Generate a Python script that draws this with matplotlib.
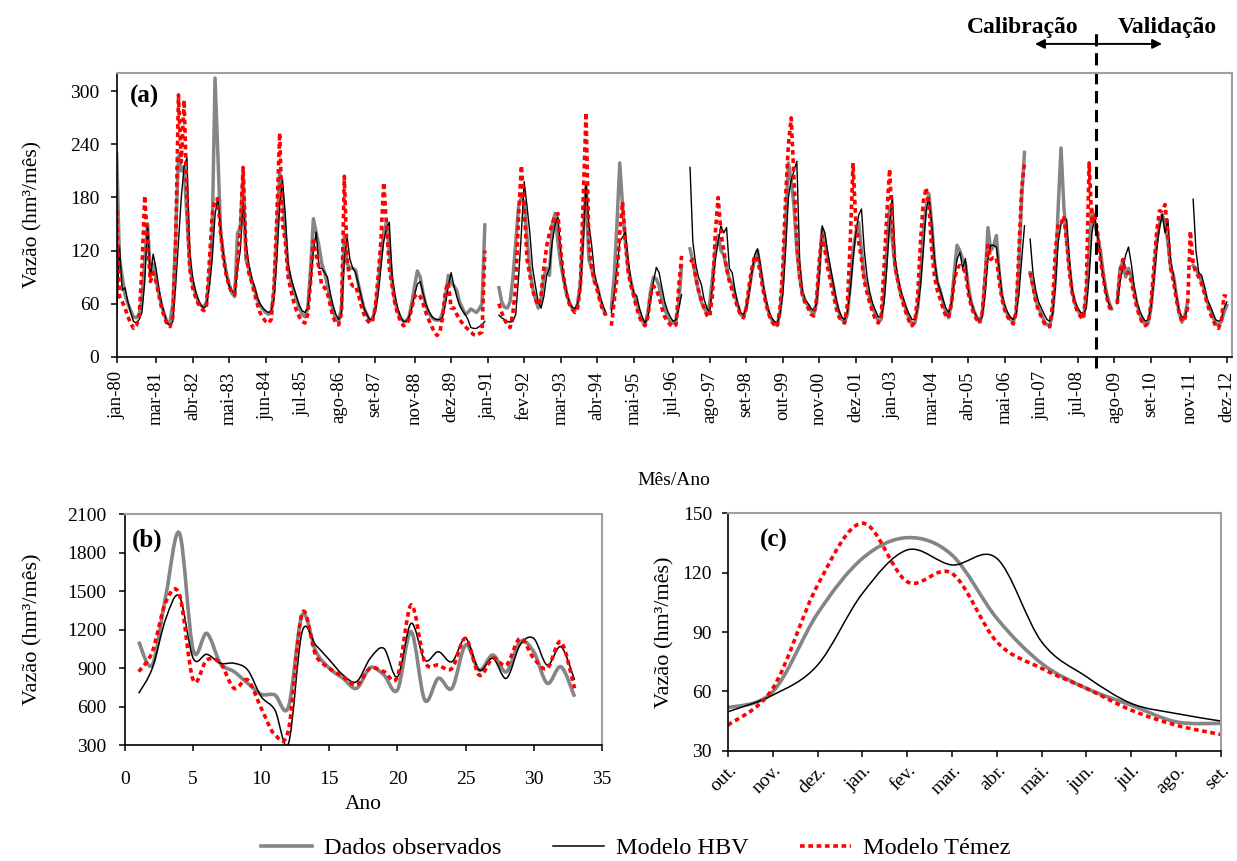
import numpy as np
import matplotlib
matplotlib.use('Agg')
import matplotlib.pyplot as plt
from matplotlib.path import Path
from matplotlib.patches import PathPatch
from matplotlib.lines import Line2D

plt.rcParams['font.family'] = ['Liberation Serif', 'DejaVu Serif']

N = None

# (a) monthly flows, one row per calendar year (jan..dez), 1980-2012
obs_years = [
    [230, 110, 90, 70, 60, 52, 45, 44, 48, 65, 110, 150],
    [95, 105, 88, 72, 58, 48, 38, 40, 60, 137, 227, 210],
    [215, 160, 103, 85, 72, 62, 58, 56, 62, 90, 140, 315],
    [230, 140, 115, 95, 82, 72, 68, 140, 145, 205, 110, 100],
    [85, 78, 65, 58, 54, 50, 48, 50, 75, 140, 208, 185],
    [140, 100, 85, 75, 65, 55, 48, 45, 55, 100, 156, 140],
    [125, 105, 95, 80, 65, 52, 42, 40, 55, 137, 105, 100],
    [100, 98, 82, 68, 55, 48, 41, 42, 55, 80, 115, 140],
    [152, 120, 85, 62, 52, 44, 40, 40, 45, 60, 80, 97],
    [90, 72, 58, 50, 45, 42, 41, 42, 50, 68, 92, 84],
    [80, 75, 62, 55, 48, 50, 54, 52, 50, 54, 60, 149],
    [N, N, N, N, 78, 62, 56, 55, 62, 90, 130, 170],
    [180, 175, 135, 100, 78, 65, 55, 65, 90, 100, 92, 150],
    [162, 130, 105, 88, 72, 62, 55, 52, 60, 85, 140, 193],
    [110, 100, 85, 80, 65, 55, 48, N, 55, 90, 150, 219],
    [170, 130, 100, 85, 70, 60, 50, 40, 36, 50, 75, 90],
    [88, 80, 65, 55, 45, 40, 38, 40, 60, 103, N, N],
    [122, 107, 90, 75, 62, 55, 50, 60, 90, 120, 137, 120],
    [115, 100, 88, 82, 70, 58, 48, 45, 55, 75, 95, 110],
    [120, 100, 80, 62, 50, 42, 38, 35, 50, 84, 150, 219],
    [200, 170, 120, 90, 70, 62, 58, 52, 48, 60, 100, 144],
    [130, 110, 95, 80, 62, 50, 42, 39, 48, 80, 120, 140],
    [152, 120, 90, 80, 65, 55, 48, 40, 42, 70, 120, 167],
    [130, 100, 85, 70, 62, 52, 42, 36, 38, 55, 90, 140],
    [170, 184, 150, 107, 85, 75, 62, 50, 44, 60, 95, 126],
    [120, 110, 105, 80, 62, 52, 45, 39, 50, 90, 146, 120],
    [125, 137, 95, 68, 55, 47, 42, 39, 50, 100, 180, 231],
    [N, 95, 80, 65, 55, 48, 40, 36, 35, 50, 90, 170],
    [236, 170, 130, 100, 73, 60, 52, 47, 45, 70, 120, 167],
    [150, 137, 120, 95, 75, 62, 54, N, 62, 100, 107, 90],
    [100, 90, 75, 60, 48, 40, 36, 38, 55, 90, 130, 150],
    [161, 150, 130, 100, 92, 70, 50, 39, 45, 62, N, 103],
    [100, 92, 85, 75, 62, 55, 45, 38, 35, 40, 50, 58],
]
hbv_years = [
    [45, 125, 75, 78, 62, 50, 40, 38, 42, 50, 85, 150],
    [90, 116, 100, 78, 60, 48, 38, 35, 40, 80, 130, 180],
    [215, 225, 120, 90, 75, 65, 58, 55, 58, 80, 110, 160],
    [180, 145, 115, 92, 80, 75, 70, 100, 120, 174, 130, 105],
    [90, 80, 68, 60, 55, 52, 50, 52, 65, 110, 170, 200],
    [160, 105, 90, 78, 68, 58, 52, 50, 55, 80, 120, 141],
    [100, 100, 95, 90, 72, 58, 48, 42, 50, 110, 135, 110],
    [100, 95, 82, 68, 55, 48, 42, 43, 50, 70, 100, 130],
    [145, 152, 92, 70, 55, 45, 40, 40, 45, 55, 70, 82],
    [85, 72, 60, 52, 46, 43, 42, 42, 45, 60, 80, 95],
    [80, 68, 58, 52, 48, 42, 33, 32, 32, 34, 36, 40],
    [N, N, N, N, 47, 44, 42, 40, 39, 40, 48, 90],
    [140, 198, 170, 140, 100, 80, 62, 55, 68, 92, 100, 130],
    [150, 158, 120, 90, 75, 62, 56, 54, 60, 75, 130, 195],
    [150, 126, 95, 80, 68, 58, 50, N, 50, 70, 100, 130],
    [135, 141, 110, 85, 72, 69, 55, 45, 38, 45, 65, 85],
    [101, 95, 78, 62, 52, 45, 40, 42, 55, 70, N, N],
    [214, 130, 105, 90, 82, 65, 55, 50, 80, 110, 130, 148],
    [140, 146, 100, 95, 75, 60, 50, 47, 55, 70, 95, 115],
    [122, 105, 82, 65, 52, 44, 40, 38, 48, 70, 120, 180],
    [200, 210, 221, 110, 75, 65, 60, 55, 52, 60, 90, 148],
    [140, 118, 100, 82, 65, 52, 45, 42, 50, 75, 110, 140],
    [160, 167, 120, 90, 72, 60, 52, 45, 45, 60, 100, 150],
    [182, 110, 90, 75, 65, 55, 48, 42, 42, 55, 80, 120],
    [165, 180, 150, 110, 85, 75, 65, 55, 50, 60, 85, 110],
    [118, 100, 111, 75, 62, 52, 45, 40, 45, 70, 110, 126],
    [126, 124, 100, 70, 58, 50, 45, 42, 48, 70, 110, 148],
    [N, 133, 95, 75, 62, 55, 48, 42, 40, 48, 80, 130],
    [150, 157, 155, 110, 75, 62, 55, 50, 48, 55, 90, 140],
    [159, 137, 115, 90, 72, 60, 55, N, 60, 85, 100, 115],
    [124, 105, 80, 62, 52, 45, 40, 42, 55, 85, 120, 145],
    [161, 140, 155, 110, 92, 70, 52, 45, 45, 55, N, 178],
    [120, 95, 92, 80, 65, 58, 50, 42, 40, 42, 55, 62],
]
temez_years = [
    [165, 68, 62, 55, 45, 38, 32, 35, 45, 100, 182, 130],
    [85, 95, 85, 70, 55, 45, 36, 34, 45, 130, 296, 220],
    [290, 180, 100, 78, 68, 60, 55, 52, 58, 110, 160, 178],
    [178, 140, 110, 92, 80, 72, 70, 105, 145, 214, 120, 95],
    [85, 72, 60, 50, 44, 40, 38, 42, 80, 160, 253, 150],
    [130, 90, 75, 62, 52, 45, 40, 38, 48, 85, 131, 115],
    [100, 80, 78, 72, 58, 45, 38, 36, 50, 204, 110, 85],
    [80, 80, 70, 58, 48, 42, 38, 40, 55, 90, 130, 197],
    [150, 100, 80, 60, 48, 40, 35, 36, 42, 55, 68, 71],
    [68, 60, 50, 42, 35, 28, 24, 28, 45, 75, 84, 55],
    [55, 48, 42, 38, 34, 31, 28, 25, 24, 26, 28, 120],
    [N, N, N, N, 60, 50, 42, 36, 33, 50, 80, 160],
    [216, 170, 110, 92, 75, 65, 58, 70, 100, 125, 140, 150],
    [160, 162, 120, 90, 72, 60, 54, 50, 55, 80, 180, 276],
    [130, 100, 85, 75, 62, 52, 47, N, 35, 62, 90, 140],
    [175, 130, 95, 80, 68, 55, 45, 38, 35, 45, 70, 80],
    [75, 68, 55, 45, 40, 36, 34, 36, 80, 114, N, N],
    [107, 110, 90, 75, 65, 55, 47, 45, 70, 140, 180, 140],
    [120, 100, 85, 75, 65, 55, 47, 44, 55, 80, 100, 114],
    [110, 95, 75, 60, 48, 40, 36, 34, 55, 100, 180, 240],
    [270, 200, 130, 90, 70, 60, 55, 48, 46, 65, 110, 137],
    [120, 100, 85, 70, 55, 45, 40, 38, 60, 130, 219, 150],
    [130, 110, 85, 72, 60, 50, 42, 38, 45, 100, 160, 212],
    [150, 100, 85, 70, 58, 48, 40, 35, 40, 70, 130, 175],
    [191, 170, 120, 90, 75, 65, 55, 46, 44, 60, 85, 100],
    [103, 100, 95, 72, 58, 48, 42, 38, 50, 90, 126, 110],
    [112, 112, 85, 65, 52, 45, 40, 37, 50, 120, 190, 219],
    [N, 95, 80, 62, 52, 45, 38, 34, 34, 60, 120, 150],
    [150, 159, 130, 95, 72, 58, 50, 45, 43, 80, 219, 150],
    [160, 140, 110, 90, 70, 58, 50, N, 60, 95, 110, 95],
    [95, 85, 70, 55, 45, 38, 35, 38, 60, 100, 140, 165],
    [165, 172, 140, 100, 85, 65, 50, 40, 42, 55, 142, 105],
    [95, 90, 82, 72, 60, 50, 42, 35, 32, 40, 69, 68],
]
tick_months = [0, 14, 27, 40, 53, 66, 79, 92, 106, 119, 132, 145, 158, 171, 184,
               198, 211, 224, 237, 250, 263, 276, 290, 303, 316, 329, 342, 355,
               368, 382, 395]
tick_labels_a = ['jan-80', 'mar-81', 'abr-82', 'mai-83', 'jun-84', 'jul-85',
                 'ago-86', 'set-87', 'nov-88', 'dez-89', 'jan-91', 'fev-92',
                 'mar-93', 'abr-94', 'mai-95', 'jul-96', 'ago-97', 'set-98',
                 'out-99', 'nov-00', 'dez-01', 'jan-03', 'mar-04', 'abr-05',
                 'mai-06', 'jun-07', 'jul-08', 'ago-09', 'set-10', 'nov-11',
                 'dez-12']
split_month = 348.5   # end of calibration period

# (b) annual totals per hydrological year
years_b = list(range(1, 34))
obs_annual = [1105, 924, 1469, 1949, 1040, 1170, 937, 872, 781, 695, 690, 599,
              1313, 1030, 898, 820, 742, 903, 846, 730, 1183, 651, 820, 742,
              1079, 884, 1001, 871, 1105, 1027, 781, 910, 676]
hbv_annual = [703, 898, 1287, 1456, 976, 1007, 937, 937, 885, 677, 573, 313,
              1183, 1079, 963, 846, 794, 976, 1053, 832, 1248, 962, 1027, 949,
              1131, 884, 976, 820, 1079, 1131, 923, 1066, 807]
temez_annual = [872, 1027, 1417, 1469, 807, 963, 937, 742, 807, 586, 380, 420,
                1326, 1001, 898, 833, 768, 898, 872, 832, 1391, 949, 923, 897,
                1131, 845, 976, 923, 1131, 976, 897, 1105, 742]

# (c) mean monthly flows of the hydrological year
months_c = ['out.', 'nov.', 'dez.', 'jan.', 'fev.', 'mar.', 'abr.', 'mai.',
            'jun.', 'jul.', 'ago.', 'set.']
obs_mean = [51.7, 59.8, 99.4, 127.2, 137.7, 128.9, 96.9, 74.1, 61.5, 53.0, 44.6, 43.8]
hbv_mean = [49.7, 58.1, 73.3, 109.5, 131.5, 123.9, 127.2, 85.0, 67.4, 53.9, 48.8, 45.0]
temez_mean = [42.9, 61.5, 113.7, 145.0, 115.4, 119.6, 85.0, 71.6, 61.5, 50.5, 42.9, 38.2]

GRAY = '#858585'
RED = '#ff0000'
red_ls = (0, (1.3, 1.0))


def to_series(rows):
    return np.array([np.nan if v is None else v for row in rows for v in row], float)


def smooth_path(x, y):
    x = np.asarray(x, float)
    y = np.asarray(y, float)
    n = len(x)
    verts = [(x[0], y[0])]
    codes = [Path.MOVETO]
    for i in range(n - 1):
        x0, y0 = (x[i - 1], y[i - 1]) if i > 0 else (x[i], y[i])
        x3, y3 = (x[i + 2], y[i + 2]) if i + 2 < n else (x[i + 1], y[i + 1])
        c1 = (x[i] + (x[i + 1] - x0) / 6, y[i] + (y[i + 1] - y0) / 6)
        c2 = (x[i + 1] - (x3 - x[i]) / 6, y[i + 1] - (y3 - y[i]) / 6)
        verts += [c1, c2, (x[i + 1], y[i + 1])]
        codes += [Path.CURVE4] * 3
    return Path(verts, codes)


def smooth_line(ax, x, y, **kw):
    patch = PathPatch(smooth_path(x, y), facecolor='none', **kw)
    ax.add_patch(patch)


def style_frame(ax):
    for s in ['top', 'right']:
        ax.spines[s].set_color('#a0a0a0')
        ax.spines[s].set_linewidth(1.5)
    for s in ['left', 'bottom']:
        ax.spines[s].set_color('black')
        ax.spines[s].set_linewidth(1.2)
    ax.tick_params(direction='out', length=4.5, width=1.1, color='black')


fig = plt.figure(figsize=(12.37, 8.61), dpi=100)

# ---------------- (a)
ax_a = fig.add_axes([0.0943, 0.5857, 0.9016, 0.3298])
obs = to_series(obs_years)
hbv = to_series(hbv_years)
tem = to_series(temez_years)
t = np.arange(len(obs))
ax_a.plot(t, obs, color=GRAY, lw=2.5)
ax_a.plot(t, hbv, color='black', lw=1.0)
ax_a.plot(t, tem, color=RED, lw=2.6, linestyle=red_ls, dash_capstyle='butt')
ax_a.set_xlim(0, 396.8)
ax_a.set_ylim(0, 321)
ax_a.set_yticks([0, 60, 120, 180, 240, 300])
ax_a.set_xticks(tick_months)
ax_a.set_xticklabels(tick_labels_a, rotation=90, fontsize=13.5)
ax_a.tick_params(axis='y', labelsize=14, pad=8)
ax_a.tick_params(axis='x', pad=6)
style_frame(ax_a)
ax_a.set_ylabel('Vazão (hm³/mês)', fontsize=15.5, labelpad=20)
ax_a.set_xlabel('Mês/Ano', fontsize=14, labelpad=34)
ax_a.text(0.012, 0.915, '(a)', transform=ax_a.transAxes, fontsize=18,
          fontweight='bold', va='center')
ax_a.plot([split_month, split_month], [-0.04, 1.155], color='black', lw=2.2,
          linestyle=(0, (4, 2.2)), transform=ax_a.get_xaxis_transform(),
          clip_on=False)
fig.text(0.8265, 0.9686, 'Calibração', fontsize=17, fontweight='bold',
         ha='center', va='center')
fig.text(0.944, 0.9686, 'Validação', fontsize=17, fontweight='bold',
         ha='center', va='center')
ax_a.annotate('', xy=(0.8367, 0.949), xytext=(0.9394, 0.949),
              xycoords='figure fraction', textcoords='figure fraction',
              arrowprops=dict(arrowstyle='<|-|>', color='black', lw=1.4,
                              mutation_scale=14, shrinkA=0, shrinkB=0))

# ---------------- (b)
ax_b = fig.add_axes([0.1011, 0.1347, 0.3854, 0.2683])
smooth_line(ax_b, years_b, obs_annual, edgecolor=GRAY, lw=2.6)
smooth_line(ax_b, years_b, hbv_annual, edgecolor='black', lw=1.1)
smooth_line(ax_b, years_b, temez_annual, edgecolor=RED, lw=2.6,
            linestyle=red_ls, capstyle='butt')
ax_b.set_xlim(0, 35)
ax_b.set_ylim(300, 2100)
ax_b.set_xticks(range(0, 36, 5))
ax_b.set_yticks(range(300, 2101, 300))
ax_b.tick_params(labelsize=14)
ax_b.tick_params(axis='x', pad=14)
ax_b.tick_params(axis='y', pad=9)
style_frame(ax_b)
ax_b.set_ylabel('Vazão (hm³/mês)', fontsize=16, labelpad=18)
ax_b.set_xlabel('Ano', fontsize=15.5, labelpad=5)
ax_b.text(0.015, 0.885, '(b)', transform=ax_b.transAxes, fontsize=18,
          fontweight='bold', va='center')

# ---------------- (c)
ax_c = fig.add_axes([0.5885, 0.1281, 0.3985, 0.2757])
xc = np.arange(len(months_c))
smooth_line(ax_c, xc, obs_mean, edgecolor=GRAY, lw=2.6)
smooth_line(ax_c, xc, hbv_mean, edgecolor='black', lw=1.1)
smooth_line(ax_c, xc, temez_mean, edgecolor=RED, lw=2.6,
            linestyle=red_ls, capstyle='butt')
ax_c.set_xlim(0, 11)
ax_c.set_ylim(30, 150)
ax_c.set_yticks(range(30, 151, 30))
ax_c.set_xticks(xc)
ax_c.set_xticklabels(months_c, rotation=45, ha='right', rotation_mode='anchor',
                     fontsize=14)
ax_c.tick_params(axis='y', labelsize=14, pad=7)
style_frame(ax_c)
ax_c.set_ylabel('Vazão (hm³/mês)', fontsize=16, labelpad=6)
ax_c.text(0.065, 0.885, '(c)', transform=ax_c.transAxes, fontsize=18,
          fontweight='bold', va='center')

# ---------------- legend
handles = [Line2D([], [], color=GRAY, lw=2.6),
           Line2D([], [], color='black', lw=1.1),
           Line2D([], [], color=RED, lw=2.6, linestyle=red_ls,
                  dash_capstyle='butt')]
fig.legend(handles, ['Dados observados', 'Modelo HBV', 'Modelo Témez'],
           loc='center', bbox_to_anchor=(0.514, 1 - 848 / 861), ncol=3,
           frameon=False, fontsize=17.5, handlelength=2.1, handletextpad=0.5,
           columnspacing=2.1)

fig.savefig('out.png', dpi=100)
